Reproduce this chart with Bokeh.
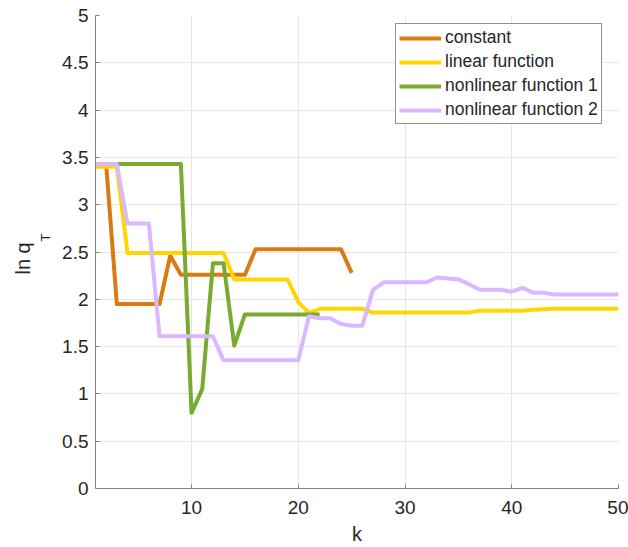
import math
from bokeh.plotting import figure
from bokeh.models import Range1d, FixedTicker, NumeralTickFormatter, Title, Legend, LegendItem
from bokeh.embed import file_html
from bokeh.resources import INLINE

# ---- data ----
k_const = list(range(1, 26))
constant = [3.42, 3.42, 1.95, 1.95, 1.95, 1.95, 1.95, 2.46, 2.26, 2.26,
            2.26, 2.26, 2.26, 2.26, 2.26, 2.53, 2.53, 2.53, 2.53, 2.53,
            2.53, 2.53, 2.53, 2.53, 2.28]

k_lin = list(range(1, 51))
linear = [3.40, 3.40, 3.40, 2.49, 2.49, 2.49, 2.49, 2.49, 2.49, 2.49,
          2.49, 2.49, 2.49, 2.21, 2.21, 2.21, 2.21, 2.21, 2.21, 1.97,
          1.855, 1.90, 1.90, 1.90, 1.90, 1.90, 1.86, 1.86, 1.86, 1.86,
          1.86, 1.86, 1.86, 1.86, 1.86, 1.86, 1.88, 1.88, 1.88, 1.88,
          1.88, 1.89, 1.895, 1.90, 1.90, 1.90, 1.90, 1.90, 1.90, 1.90]

k_nl1 = list(range(1, 23))
nonlinear1 = [3.43, 3.43, 3.43, 3.43, 3.43, 3.43, 3.43, 3.43, 3.43, 0.80,
              1.05, 2.38, 2.38, 1.51, 1.84, 1.84, 1.84, 1.84, 1.84, 1.84,
              1.84, 1.84]

k_nl2 = list(range(1, 51))
nonlinear2 = [3.43, 3.43, 3.43, 2.80, 2.80, 2.80, 1.61, 1.61, 1.61, 1.61,
              1.61, 1.61, 1.355, 1.355, 1.355, 1.355, 1.355, 1.355, 1.355, 1.355,
              1.82, 1.80, 1.80, 1.74, 1.72, 1.72, 2.10, 2.18, 2.18, 2.18,
              2.18, 2.18, 2.23, 2.22, 2.21, 2.16, 2.10, 2.10, 2.10, 2.08,
              2.12, 2.07, 2.07, 2.05, 2.05, 2.05, 2.05, 2.05, 2.05, 2.05]

series_names = ["constant", "linear function", "nonlinear function 1", "nonlinear function 2"]
series_colors = ["#DB7A12", "#FFD700", "#77AC30", "#D9B8FF"]

x_ticks = [10, 20, 30, 40, 50]
y_ticks = [0, 0.5, 1, 1.5, 2, 2.5, 3, 3.5, 4, 4.5, 5]

FONT = "Liberation Sans"
TXT = "#262626"

p = figure(width=628, height=547, output_backend="svg", toolbar_location=None,
           x_range=Range1d(1, 50), y_range=Range1d(0, 5),
           min_border_left=95, min_border_right=10, min_border_top=15, min_border_bottom=58)
p.outline_line_color = None
p.background_fill_color = "white"
p.border_fill_color = "white"

for ax in (p.xaxis[0], p.yaxis[0]):
    ax.axis_line_color = "#808080"
    ax.major_tick_line_color = "#808080"
    ax.major_tick_in = 4
    ax.major_tick_out = 0
    ax.minor_tick_line_color = None
    ax.major_label_text_font = FONT
    ax.major_label_text_font_size = "19px"
    ax.major_label_text_color = TXT
    ax.axis_label_text_font = FONT
    ax.axis_label_text_font_size = "20px"
    ax.axis_label_text_font_style = "normal"
    ax.axis_label_text_color = TXT

p.xaxis.ticker = FixedTicker(ticks=x_ticks)
p.yaxis.ticker = FixedTicker(ticks=y_ticks)
p.yaxis.formatter = NumeralTickFormatter(format="0.[0]")
p.xaxis.major_label_standoff = 12
p.yaxis.major_label_standoff = 7
p.xaxis.axis_label = "k"
p.xaxis.axis_label_standoff = 6

p.xgrid.ticker = FixedTicker(ticks=x_ticks)
p.ygrid.ticker = FixedTicker(ticks=y_ticks)
p.grid.grid_line_color = "#E6E6E6"
p.grid.grid_line_width = 1

renderers = []
for xs, ys, c in [(k_const, constant, series_colors[0]),
                  (k_lin, linear, series_colors[1]),
                  (k_nl1, nonlinear1, series_colors[2]),
                  (k_nl2, nonlinear2, series_colors[3])]:
    r = p.line(xs, ys, line_color=c, line_width=4, line_join="round")
    renderers.append(r)

legend = Legend(items=[LegendItem(label=n, renderers=[r]) for n, r in zip(series_names, renderers)],
                location=(300, 364))
legend.label_text_font = FONT
legend.label_text_font_size = "17.5px"
legend.label_text_color = TXT
legend.border_line_color = "#262626"
legend.border_line_width = 1
legend.background_fill_alpha = 1
legend.padding = 3
legend.margin = 0
legend.spacing = 3
legend.glyph_width = 42
legend.glyph_height = 20
legend.label_height = 20
legend.label_standoff = 4
p.add_layout(legend)

# y axis label "ln q_T": subscript T (inner panel) and "ln q" (outer panel)
t_sub = Title(text="T", align="left", offset=247, standoff=9, vertical_align="top",
              text_font=FONT, text_font_size="13px", text_font_style="normal", text_color=TXT)
t_main = Title(text="ln q", align="left", offset=214, standoff=0,
               text_font=FONT, text_font_size="20px", text_font_style="normal", text_color=TXT)
p.add_layout(t_sub, "left")
p.add_layout(t_main, "left")

open("out.html", "w").write(file_html(p, INLINE))
